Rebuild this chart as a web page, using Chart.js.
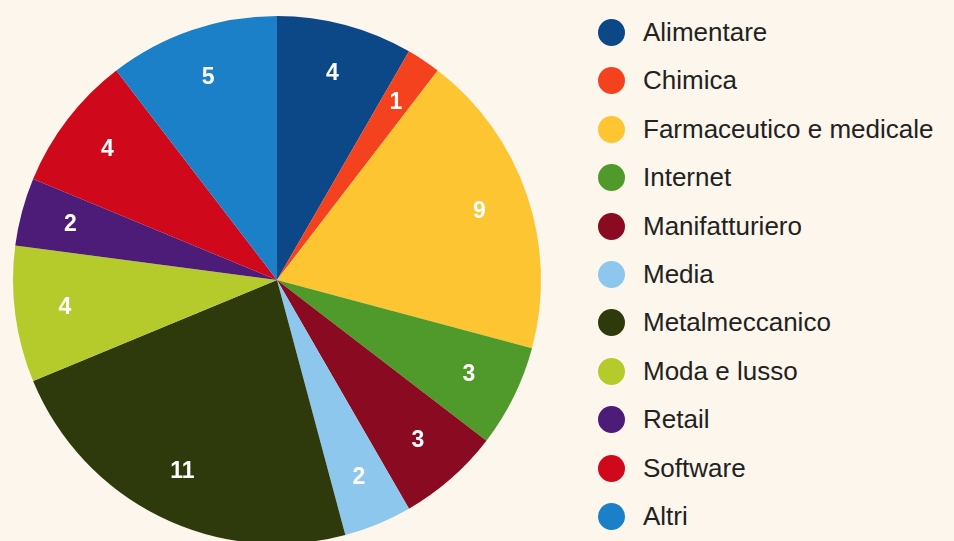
<!DOCTYPE html>
<html>
<head>
<meta charset="utf-8">
<script src="https://cdn.jsdelivr.net/npm/chart.js@4/dist/chart.umd.min.js"></script>
<style>
  html, body { margin: 0; padding: 0; background: #fdf6ec; overflow: hidden; }
  #wrap { position: relative; width: 954px; height: 541px; }
  #box { position: absolute; left: 0; top: 0; width: 554px; height: 560px; }
  #legend { position: absolute; left: 598px; top: 0; margin: 0; padding: 0; list-style: none;
    font-family: "Liberation Sans", Arial, sans-serif; font-size: 26px; color: #222; }
  #legend li { position: absolute; left: 0; white-space: nowrap; height: 30px; line-height: 30px; }
  #legend span { position: absolute; left: 0; top: 2px; width: 27px; height: 27px; border-radius: 50%; }
  #legend b { font-weight: normal; position: absolute; left: 45px; top: 0; }
</style>
</head>
<body>
<div id="wrap">
  <div id="box"><canvas id="myChart"></canvas></div>
  <ul id="legend"></ul>
</div>
<script>
var labels = ['Alimentare', 'Chimica', 'Farmaceutico e medicale', 'Internet', 'Manifatturiero', 'Media', 'Metalmeccanico', 'Moda e lusso', 'Retail', 'Software', 'Altri'];
var values = [4, 1, 9, 3, 3, 2, 11, 4, 2, 4, 5];
var colors = ['#0c4787', '#f4421f', '#fdc532', '#4f9a2b', '#8a0a22', '#8dc7ee', '#2e390c', '#b4cb2b', '#4d1b78', '#d0081c', '#1b80c8'];

// slice numbers drawn in each arc
var sliceLabels = {
    id: 'sliceLabels',
    afterDatasetsDraw: function (chart) {
        var ctx = chart.ctx;
        var meta = chart.getDatasetMeta(0);
        ctx.save();
        ctx.fillStyle = '#ffffff';
        ctx.font = 'bold 23px "Liberation Sans", Arial, sans-serif';
        ctx.textAlign = 'center';
        ctx.textBaseline = 'middle';
        meta.data.forEach(function (arc, i) {
            var p = arc.getProps(['x', 'y', 'startAngle', 'endAngle', 'outerRadius'], true);
            var mid = (p.startAngle + p.endAngle) / 2;
            var r = p.outerRadius * 0.81;
            ctx.fillText(values[i], p.x + Math.cos(mid) * r, p.y + Math.sin(mid) * r);
        });
        ctx.restore();
    }
};

var ctx = document.getElementById('myChart').getContext('2d');
var myChart = new Chart(ctx, {
    type: 'pie',
    data: {
        labels: labels,
        datasets: [{
            data: values,
            backgroundColor: colors,
            borderWidth: 0,
            hoverOffset: 0
        }]
    },
    options: {
        responsive: true,
        maintainAspectRatio: false,
        animation: false,
        layout: { padding: { left: 13, right: 13, top: 16, bottom: 16 } },
        plugins: {
            legend: { display: false },
            tooltip: { enabled: false }
        }
    },
    plugins: [sliceLabels]
});

// legend next to the pie
var ul = document.getElementById('legend');
labels.forEach(function (name, i) {
    var li = document.createElement('li');
    li.style.top = (17 + i * 48.4) + 'px';
    li.innerHTML = '<span style="background:' + colors[i] + '"></span><b>' + name + '</b>';
    ul.appendChild(li);
});
</script>
</body>
</html>
